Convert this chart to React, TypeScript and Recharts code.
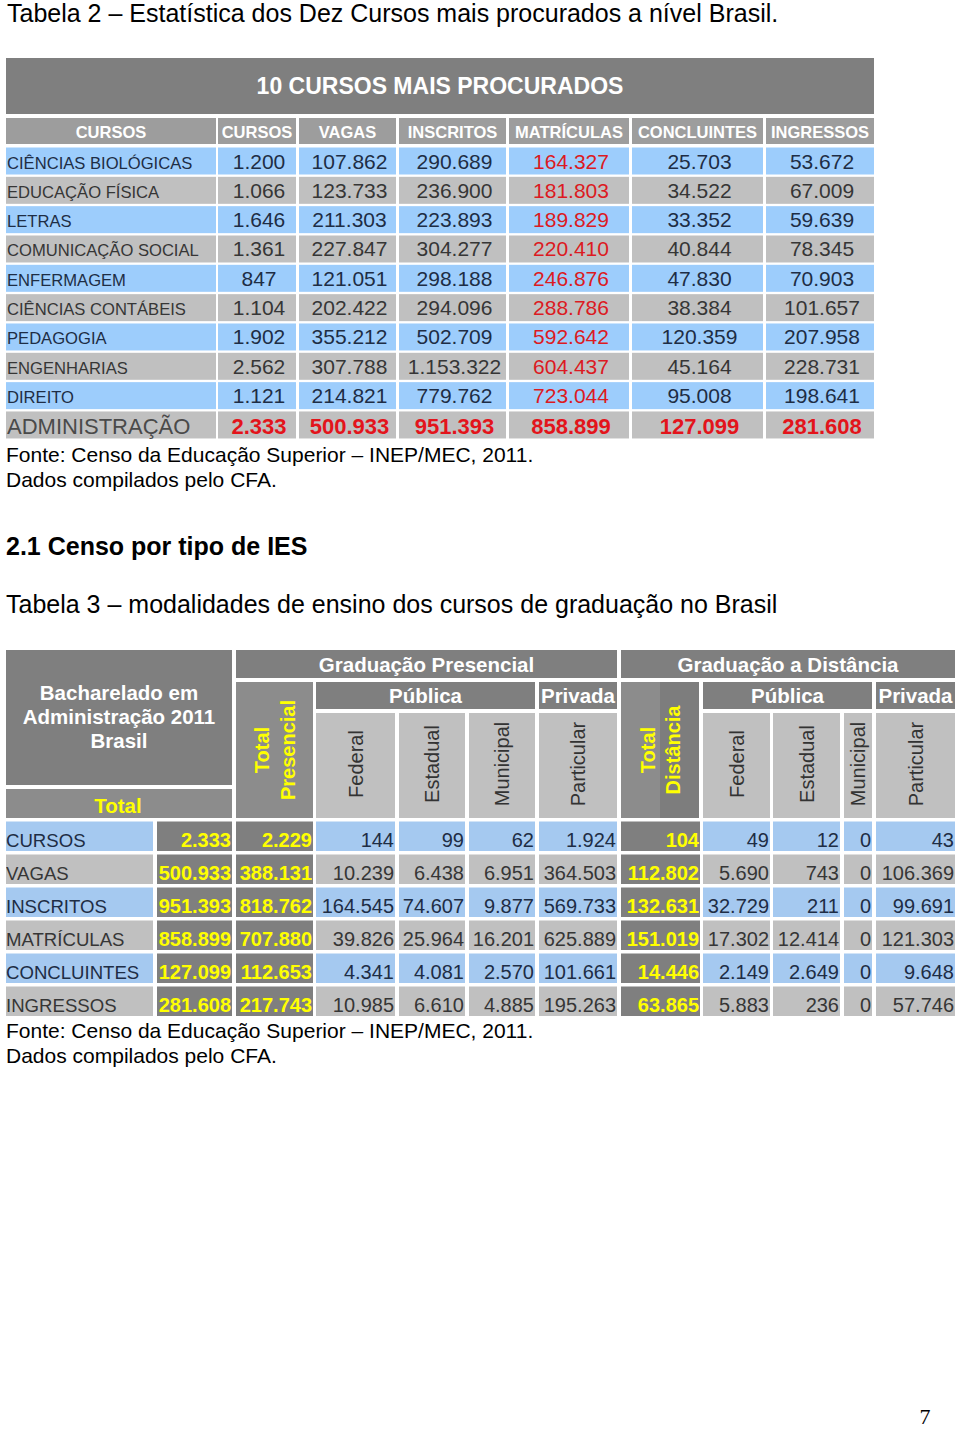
import React from 'react';
import { ScatterChart, Scatter, XAxis, YAxis } from 'recharts';

const FONT = '"Liberation Sans", Arial, Helvetica, sans-serif';

// Tabela 2 — dez cursos mais procurados
const T2_HEADERS = ['CURSOS', 'CURSOS', 'VAGAS', 'INSCRITOS', 'MATRÍCULAS', 'CONCLUINTES', 'INGRESSOS'];
const T2_COURSES = [
  'CIÊNCIAS BIOLÓGICAS',
  'EDUCAÇÃO FÍSICA',
  'LETRAS',
  'COMUNICAÇÃO SOCIAL',
  'ENFERMAGEM',
  'CIÊNCIAS CONTÁBEIS',
  'PEDAGOGIA',
  'ENGENHARIAS',
  'DIREITO',
  'ADMINISTRAÇÃO',
];
const N_CURSOS = [1200, 1066, 1646, 1361, 847, 1104, 1902, 2562, 1121, 2333];
const VAGAS = [107862, 123733, 211303, 227847, 121051, 202422, 355212, 307788, 214821, 500933];
const INSCRITOS = [290689, 236900, 223893, 304277, 298188, 294096, 502709, 1153322, 779762, 951393];
const MATRICULAS = [164327, 181803, 189829, 220410, 246876, 288786, 592642, 604437, 723044, 858899];
const CONCLUINTES = [25703, 34522, 33352, 40844, 47830, 38384, 120359, 45164, 95008, 127099];
const INGRESSOS = [53672, 67009, 59639, 78345, 70903, 101657, 207958, 228731, 198641, 281608];

// Tabela 3 — modalidades de ensino, Administração 2011
const T3_ROWS = ['CURSOS', 'VAGAS', 'INSCRITOS', 'MATRÍCULAS', 'CONCLUINTES', 'INGRESSOS'];
const TOTAL = [2333, 500933, 951393, 858899, 127099, 281608];
const TOTAL_PRESENCIAL = [2229, 388131, 818762, 707880, 112653, 217743];
const PRES_FEDERAL = [144, 10239, 164545, 39826, 4341, 10985];
const PRES_ESTADUAL = [99, 6438, 74607, 25964, 4081, 6610];
const PRES_MUNICIPAL = [62, 6951, 9877, 16201, 2570, 4885];
const PRES_PARTICULAR = [1924, 364503, 569733, 625889, 101661, 195263];
const TOTAL_DISTANCIA = [104, 112802, 132631, 151019, 14446, 63865];
const DIST_FEDERAL = [49, 5690, 32729, 17302, 2149, 5883];
const DIST_ESTADUAL = [12, 743, 211, 12414, 2649, 236];
const DIST_MUNICIPAL = [0, 0, 0, 0, 0, 0];
const DIST_PARTICULAR = [43, 106369, 99691, 121303, 9648, 57746];
const SUB_HEADERS = ['Federal', 'Estadual', 'Municipal', 'Particular'];

const DARK = '#7f7f7f';
const MID = '#8c8c8c';
const LIGHT = '#c0c0c0';
const BLUE2 = '#9dcdfc';
const BLUE3 = '#a5c9f0';
const TXT_BLUE = '#1e2d45';
const TXT_GRAY = '#363636';
const RED = '#dc1a22';
const YELLOW = '#ffff00';

type Cell = {
  x: number;
  y: number;
  w: number;
  h: number;
  fill: string;
  fill2?: string;
  text?: string[];
  align?: 'left' | 'center' | 'right';
  base?: number;
  dx?: number;
  size?: number;
  bold?: boolean;
  color?: string;
  rotate?: boolean;
  gap?: number;
};

const fmt = (n: number) => String(n).replace(/\B(?=(\d{3})+(?!\d))/g, '.');

function CellShape(props: any) {
  const { cx, cy, payload } = props;
  const c: Cell = payload;
  if (cx == null || cy == null || !c) return null;
  const lines = c.text || [];
  const style = {
    fontFamily: FONT,
    fontSize: c.size || 20,
    fontWeight: c.bold ? 700 : 400,
    fill: c.color || '#000',
  };
  let texts: React.ReactNode[] = [];
  if (c.rotate) {
    const mx = cx + c.w / 2 + (c.dx || 0);
    const my = cy + (c.base ?? c.h / 2);
    texts = lines.map((t, i) => {
      const tx = mx + (i - (lines.length - 1) / 2) * (c.gap || 26);
      return (
        <text
          key={i}
          x={tx}
          y={my}
          transform={`rotate(-90 ${tx} ${my})`}
          textAnchor="middle"
          dominantBaseline="central"
          style={style}
        >
          {t}
        </text>
      );
    });
  } else {
    const align = c.align || 'center';
    const anchor = align === 'left' ? 'start' : align === 'right' ? 'end' : 'middle';
    const tx =
      align === 'left' ? cx + (c.dx || 0) : align === 'right' ? cx + c.w + (c.dx || 0) : cx + c.w / 2 + (c.dx || 0);
    texts = lines.map((t, i) => (
      <text key={i} x={tx} y={cy + (c.base || 0) + i * (c.gap || 0)} textAnchor={anchor} style={style}>
        {t}
      </text>
    ));
  }
  return (
    <g>
      <rect x={cx} y={cy} width={c.w} height={c.h} fill={c.fill} />
      {c.fill2 && <rect x={cx + c.w / 2} y={cy} width={c.w / 2} height={c.h} fill={c.fill2} />}
      {texts}
    </g>
  );
}

function TableChart({ cells, width, height }: { cells: Cell[]; width: number; height: number }) {
  return (
    <ScatterChart width={width} height={height} margin={{ top: 0, right: 0, bottom: 0, left: 0 }}>
      <XAxis type="number" dataKey="x" domain={[0, width]} allowDataOverflow hide />
      <YAxis type="number" dataKey="y" domain={[0, height]} allowDataOverflow reversed hide />
      <Scatter data={cells} shape={CellShape} isAnimationActive={false} />
    </ScatterChart>
  );
}

// ---- Tabela 2 cells (local coords, origin at 6,58)
const T2_W = 868;
const T2_H = 381;
const T2_COLS: [number, number][] = [
  [0, 210], [212, 290], [293, 390], [393, 500], [503, 623], [626, 757], [760, 868],
];

function buildTable2(): Cell[] {
  const cells: Cell[] = [];
  cells.push({
    x: 0, y: 0, w: T2_W, h: 56, fill: DARK, text: ['10 CURSOS MAIS PROCURADOS'],
    base: 35.5, size: 23, bold: true, color: '#fff',
  });
  T2_HEADERS.forEach((hd, j) => {
    const [a, b] = T2_COLS[j];
    cells.push({ x: a, y: 60, w: b - a, h: 26, fill: '#9d9d9d', text: [hd], base: 19.5, size: 16.5, bold: true, color: '#fff' });
  });
  const series = [N_CURSOS, VAGAS, INSCRITOS, MATRICULAS, CONCLUINTES, INGRESSOS];
  T2_COURSES.forEach((name, i) => {
    const top = 89.5 + i * 29.33;
    const last = i === T2_COURSES.length - 1;
    const fill = last ? LIGHT : i % 2 === 0 ? BLUE2 : LIGHT;
    const tc = i % 2 === 0 ? TXT_BLUE : TXT_GRAY;
    cells.push({
      x: T2_COLS[0][0], y: top, w: T2_COLS[0][1] - T2_COLS[0][0], h: 27, fill, text: [name], align: 'left', dx: 1,
      base: last ? 22.5 : 21, size: last ? 22 : 16.6, color: last ? '#4a4a4a' : tc,
    });
    series.forEach((s, k) => {
      const [a, b] = T2_COLS[k + 1];
      cells.push({
        x: a, y: top, w: b - a, h: 27, fill, text: [fmt(s[i])], dx: 2,
        base: last ? 22.5 : 21, size: last ? 22 : 21, bold: last,
        color: last ? '#e3141b' : k === 3 ? RED : tc,
      });
    });
  });
  return cells;
}

// ---- Tabela 3 cells (local coords, origin at 6,650)
const T3_W = 949;
const T3_H = 367;
const T3_COLS: [number, number][] = [
  [0, 147], [151, 226], [230, 307], [310, 389], [393, 459], [463, 529], [533, 611],
  [615, 694], [697, 764], [767, 834], [838, 866], [870, 949],
];

function buildTable3(): Cell[] {
  const cells: Cell[] = [];
  const hdr = { bold: true, color: '#fff', size: 20.5 };
  cells.push({ x: 0, y: 0, w: 226, h: 135, fill: DARK, text: ['Bacharelado em', 'Administração 2011', 'Brasil'], base: 49.5, gap: 24, ...hdr });
  cells.push({ x: 0, y: 139, w: 226, h: 29, fill: MID, text: ['Total'], base: 24, bold: true, size: 20.5, color: YELLOW, dx: -1 });
  cells.push({ x: 230, y: 0, w: 381, h: 28, fill: DARK, text: ['Graduação Presencial'], base: 21.7, ...hdr });
  cells.push({ x: 230, y: 32, w: 77, h: 136, fill: MID, text: ['Total', 'Presencial'], rotate: true, gap: 26, bold: true, size: 20, color: YELLOW });
  cells.push({ x: 310, y: 32, w: 219, h: 27, fill: DARK, text: ['Pública'], base: 21.3, ...hdr });
  cells.push({ x: 533, y: 32, w: 78, h: 27, fill: DARK, text: ['Privada'], base: 21.3, ...hdr });
  cells.push({ x: 615, y: 0, w: 334, h: 28, fill: DARK, text: ['Graduação a Distância'], base: 21.7, ...hdr });
  cells.push({ x: 615, y: 32, w: 78, h: 136, fill: MID, fill2: '#7d7d7d', text: ['Total', 'Distância'], rotate: true, gap: 25, bold: true, size: 20, color: YELLOW });
  cells.push({ x: 697, y: 32, w: 169, h: 27, fill: DARK, text: ['Pública'], base: 21.3, ...hdr });
  cells.push({ x: 870, y: 32, w: 79, h: 27, fill: DARK, text: ['Privada'], base: 21.3, ...hdr });
  const subCols = [3, 4, 5, 6, 8, 9, 10, 11];
  subCols.forEach((ci, k) => {
    const [a, b] = T3_COLS[ci];
    cells.push({ x: a, y: 63, w: b - a, h: 105, fill: LIGHT, text: [SUB_HEADERS[k % 4]], rotate: true, base: 51, size: 20, color: '#333' });
  });
  const series = [
    TOTAL, TOTAL_PRESENCIAL, PRES_FEDERAL, PRES_ESTADUAL, PRES_MUNICIPAL, PRES_PARTICULAR,
    TOTAL_DISTANCIA, DIST_FEDERAL, DIST_ESTADUAL, DIST_MUNICIPAL, DIST_PARTICULAR,
  ];
  const totals = [0, 1, 6];
  T3_ROWS.forEach((name, i) => {
    const top = 171.5 + i * 33;
    const fill = i % 2 === 0 ? BLUE3 : LIGHT;
    const tc = i % 2 === 0 ? TXT_BLUE : TXT_GRAY;
    cells.push({ x: 0, y: top, w: 147, h: 29.5, fill, text: [name], align: 'left', dx: 0, base: 25.5, size: 18.6, color: tc });
    series.forEach((s, k) => {
      const [a, b] = T3_COLS[k + 1];
      const isTot = totals.includes(k);
      cells.push({
        x: a, y: top, w: b - a, h: 29.5, fill: isTot ? DARK : fill, text: [fmt(s[i])], align: 'right', dx: -1,
        base: 25.5, size: 20, bold: isTot, color: isTot ? YELLOW : tc,
      });
    });
  });
  return cells;
}

const TABLE2 = buildTable2();
const TABLE3 = buildTable3();

export default function App() {
  const txt = { fontFamily: FONT, fill: '#000' };
  return (
    <div style={{ position: 'absolute', left: 0, top: 0, width: 960, height: 1430, background: '#fff', overflow: 'hidden' }}>
      <svg width={960} height={1430} style={{ position: 'absolute', left: 0, top: 0 }}>
        <text x={7} y={22} style={{ ...txt, fontSize: 25 }}>
          Tabela 2 – Estatística dos Dez Cursos mais procurados a nível Brasil.
        </text>
        <text x={6} y={462} style={{ ...txt, fontSize: 21 }}>Fonte: Censo da Educação Superior – INEP/MEC, 2011.</text>
        <text x={6} y={487} style={{ ...txt, fontSize: 21 }}>Dados compilados pelo CFA.</text>
        <text x={6} y={555} style={{ ...txt, fontSize: 25, fontWeight: 700 }}>2.1 Censo por tipo de IES</text>
        <text x={6} y={613} style={{ ...txt, fontSize: 25 }}>
          Tabela 3 – modalidades de ensino dos cursos de graduação no Brasil
        </text>
        <text x={6} y={1037.5} style={{ ...txt, fontSize: 21 }}>Fonte: Censo da Educação Superior – INEP/MEC, 2011.</text>
        <text x={6} y={1063} style={{ ...txt, fontSize: 21 }}>Dados compilados pelo CFA.</text>
        <text x={925} y={1424} textAnchor="middle" style={{ fontFamily: '"Liberation Serif", "Times New Roman", serif', fontSize: 22, fill: '#000' }}>
          7
        </text>
      </svg>
      <div style={{ position: 'absolute', left: 6, top: 58 }}>
        <TableChart cells={TABLE2} width={T2_W} height={T2_H} />
      </div>
      <div style={{ position: 'absolute', left: 6, top: 650 }}>
        <TableChart cells={TABLE3} width={T3_W} height={T3_H} />
      </div>
    </div>
  );
}
